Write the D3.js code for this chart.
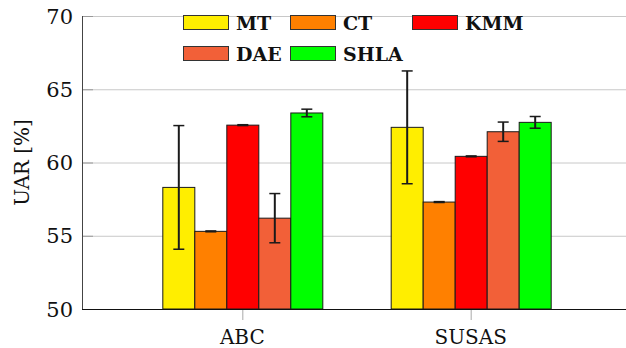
<!DOCTYPE html>
<html>
<head>
<meta charset="utf-8">
<script src="https://cdn.jsdelivr.net/npm/d3@7"></script>
<style>
  body { margin: 0; background: #fff; }
</style>
</head>
<body>
<div id="chart"></div>
<script>
var categories = ["ABC", "SUSAS"];
var series = ["MT", "CT", "KMM", "DAE", "SHLA"];
var colors = ["#FFEE00", "#FF8000", "#FF0000", "#F26038", "#00FF00"];
// values[series][category]
var values = [
  [58.3, 62.4],
  [55.3, 57.3],
  [62.55, 60.42],
  [56.2, 62.1],
  [63.38, 62.74]
];
var errors = [
  [4.22, 3.85],
  [0.03, 0.03],
  [0.03, 0.03],
  [1.68, 0.66],
  [0.26, 0.4]
];
var yTicks = [50, 55, 60, 65, 70];

var width = 626, height = 348;
var padding = {left: 82, right: -5, top: 16, bottom: 39};
var serif = "'DejaVu Serif', serif";

var svg = d3.select("#chart").append("svg")
  .attr("width", width)
  .attr("height", height)
  .attr("font-family", serif)
  .style("font-family", serif);

var xScale = d3.scalePoint()
  .domain(categories)
  .range([padding.left, width - padding.right])
  .padding(0.702);

var inner = d3.scaleBand()
  .domain(series)
  .range([-80, 80]);

var yScale = d3.scaleLinear()
  .domain([50, 70])
  .range([height - padding.bottom, padding.top]);

// grid
svg.append("g").selectAll("line")
  .data(yTicks).enter().append("line")
  .attr("x1", padding.left).attr("x2", width)
  .attr("y1", function(d){ return yScale(d) + 0.5; })
  .attr("y2", function(d){ return yScale(d) + 0.5; })
  .attr("stroke", "#c8c8c8").attr("stroke-width", 1);

// y tick marks
svg.append("g").selectAll("line")
  .data(yTicks).enter().append("line")
  .attr("x1", padding.left).attr("x2", padding.left + 11)
  .attr("y1", function(d){ return yScale(d) + 0.5; })
  .attr("y2", function(d){ return yScale(d) + 0.5; })
  .attr("stroke", "#999");

// y tick labels
svg.append("g").selectAll("text")
  .data(yTicks).enter().append("text")
  .attr("x", padding.left - 9)
  .attr("y", function(d){ return yScale(d); })
  .attr("dy", "0.36em")
  .attr("text-anchor", "end")
  .attr("fill", "#111")
  .style("font-size", "21px")
  .text(function(d){ return d; });

// bars
var groups = svg.selectAll(".grp")
  .data(categories).enter().append("g")
  .attr("class", "grp")
  .attr("transform", function(d){ return "translate(" + xScale(d) + ",0)"; });

series.forEach(function(s, si){
  groups.append("rect")
    .attr("x", inner(s) + 0.5)
    .attr("y", function(d, ci){ return yScale(values[si][ci]); })
    .attr("width", inner.bandwidth())
    .attr("height", function(d, ci){ return yScale(50) - yScale(values[si][ci]); })
    .attr("fill", colors[si])
    .attr("stroke", "#1a1a1a")
    .attr("stroke-width", 1);
});

// error bars
series.forEach(function(s, si){
  var cx = inner(s) + inner.bandwidth() / 2 + 0.5;
  groups.append("line")
    .attr("x1", cx).attr("x2", cx)
    .attr("y1", function(d, ci){ return yScale(values[si][ci] + errors[si][ci]); })
    .attr("y2", function(d, ci){ return yScale(values[si][ci] - errors[si][ci]); })
    .attr("stroke", "#1a1a1a").attr("stroke-width", 2);
  [1, -1].forEach(function(sign){
    groups.append("line")
      .attr("x1", cx - 5.5).attr("x2", cx + 5.5)
      .attr("y1", function(d, ci){ return yScale(values[si][ci] + sign * errors[si][ci]); })
      .attr("y2", function(d, ci){ return yScale(values[si][ci] + sign * errors[si][ci]); })
      .attr("stroke", "#1a1a1a").attr("stroke-width", 1.5);
  });
});

// axes lines
svg.append("line")
  .attr("x1", padding.left + 0.5).attr("x2", padding.left + 0.5)
  .attr("y1", padding.top).attr("y2", yScale(50) + 1)
  .attr("stroke", "#444").attr("stroke-width", 1);
svg.append("line")
  .attr("x1", padding.left).attr("x2", width)
  .attr("y1", yScale(50) + 0.5).attr("y2", yScale(50) + 0.5)
  .attr("stroke", "#111").attr("stroke-width", 1);

// x ticks and labels
svg.append("g").selectAll("line")
  .data(categories).enter().append("line")
  .attr("x1", function(d){ return xScale(d) + 0.5; })
  .attr("x2", function(d){ return xScale(d) + 0.5; })
  .attr("y1", yScale(50) + 1).attr("y2", yScale(50) + 11)
  .attr("stroke", "#aaa");
svg.append("g").selectAll("text")
  .data(categories).enter().append("text")
  .attr("x", function(d){ return xScale(d); })
  .attr("y", height - 4)
  .attr("text-anchor", "middle")
  .attr("fill", "#111")
  .style("font-size", "20px")
  .text(function(d){ return d; });

// y label
svg.append("text")
  .attr("transform", "translate(29," + yScale(60) + ") rotate(-90)")
  .attr("text-anchor", "middle")
  .attr("fill", "#111")
  .style("font-size", "20px")
  .text("UAR [%]");

// legend
var legendX = [183, 290, 412];
var legendY = [15, 46];
var legend = svg.append("g");
series.forEach(function(s, i){
  var col = i < 3 ? i : i - 3;
  var row = i < 3 ? 0 : 1;
  var g = legend.append("g")
    .attr("transform", "translate(" + legendX[col] + "," + legendY[row] + ")");
  g.append("rect")
    .attr("x", 0.5).attr("y", 0.5)
    .attr("width", 45).attr("height", 14)
    .attr("fill", colors[i])
    .attr("stroke", "#333");
  g.append("text")
    .attr("x", 53).attr("y", 15)
    .attr("fill", "#111")
    .style("font-size", "19px")
    .style("font-weight", "bold")
    .text(s);
});
</script>
</body>
</html>
